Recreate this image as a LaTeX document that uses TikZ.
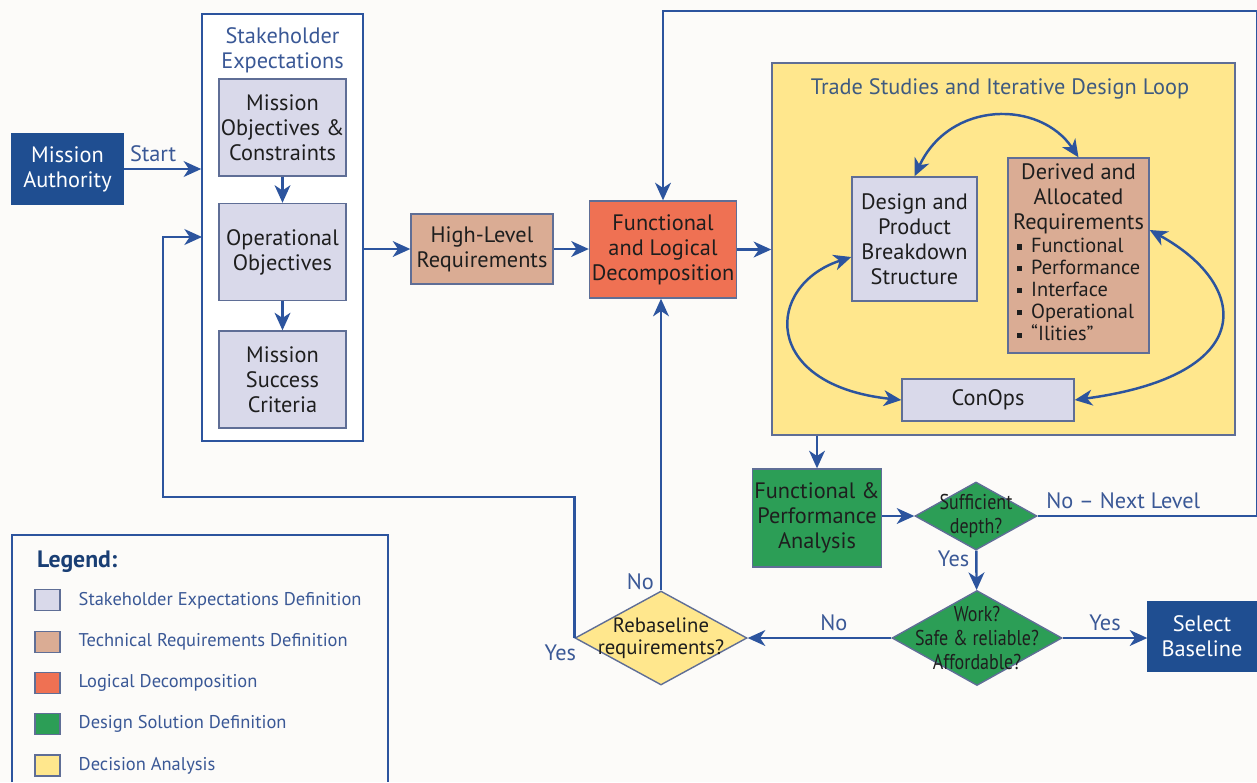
\documentclass[tikz,border=0pt]{standalone}
\usepackage{fontspec}
\setmainfont{PT Sans}
\newfontfamily\narrowfont[FakeStretch=0.84]{PT Sans}
\usetikzlibrary{shapes.geometric,arrows.meta,positioning}

\definecolor{paper}{RGB}{252,251,249}
\definecolor{navy}{RGB}{31,78,145}
\definecolor{flowblue}{RGB}{44,84,158}
\definecolor{labelblue}{RGB}{58,88,150}
\definecolor{titleslate}{RGB}{62,90,128}
\definecolor{inkdark}{RGB}{30,30,30}
\definecolor{edgegrey}{RGB}{95,110,150}
\definecolor{lavender}{RGB}{217,217,234}
\definecolor{tan}{RGB}{218,172,148}
\definecolor{coral}{RGB}{239,113,83}
\definecolor{leaf}{RGB}{44,158,86}
\definecolor{sand}{RGB}{255,231,141}

\newcommand{\sqbullet}{\rule[0.3ex]{0.5ex}{0.5ex}\hspace{0.45em}}

\begin{document}
\begin{tikzpicture}[
        x=0.02cm, y=-0.02cm,
        font=\fontsize{12.7}{14.2}\selectfont,
        >={Stealth[length=10pt,width=9pt,inset=3pt]}
    ]
    \tikzset{
        flow/.style = {->, draw=flowblue, line width=1.4pt},
        twoway/.style = {<->, draw=flowblue, line width=1.4pt},
        flowlabel/.style = {text=labelblue},
        box/.style = {rectangle, draw=edgegrey, line width=0.8pt, align=center, text=inkdark, inner sep=1pt},
        stakebox/.style = {box, fill=lavender, minimum width=2.54cm, minimum height=1.94cm},
        reqbox/.style = {box, fill=tan},
        decompbox/.style = {box, fill=coral},
        solutionbox/.style = {box, fill=leaf},
        authbox/.style = {box, fill=navy, draw=navy, text=white},
        groupframe/.style = {rectangle, draw=flowblue, line width=0.9pt},
        decision/.style = {diamond, draw=edgegrey, line width=0.8pt, inner sep=0pt},
        diamondtext/.style = {align=center, text=inkdark, font=\narrowfont\fontsize{12.2}{13.4}\selectfont},
        swatch/.style = {rectangle, draw=edgegrey, line width=0.6pt, minimum width=0.5cm, minimum height=0.42cm, inner sep=0pt},
        legendtext/.style = {text=labelblue, font=\fontsize{10.5}{13}\selectfont},
    }
    \useasboundingbox (0,0) rectangle (1257,782);
    \fill[paper] (0,0) rectangle (1257,782);

    \node[groupframe, fill=white, minimum width=3.22cm, minimum height=8.54cm] (stakeframe) at (282.5,227.5) {};
    \node[groupframe, fill=sand, draw=edgegrey, minimum width=9.26cm, minimum height=7.44cm] (tradeframe) at (1003.5,249) {};

    \node[authbox, minimum width=2.22cm, minimum height=1.40cm] (authority) at (67.5,169) {Mission\\Authority};
    \node[align=center, text=labelblue] (staketitle) at (282.5,50) {Stakeholder\\Expectations};
    \node[stakebox] (missionobj) at (282.5,127.5) {Mission\\Objectives \&\\Constraints};
    \node[stakebox] (opsobj) at (282.5,252) {Operational\\Objectives};
    \node[stakebox] (successcrit) at (282.5,379.5) {Mission\\Success\\Criteria};
    \node[reqbox, minimum width=2.84cm, minimum height=1.40cm] (highlevel) at (482,249) {High-Level\\Requirements};
    \node[decompbox, minimum width=2.94cm, minimum height=1.94cm] (decomp) at (663,249.5) {Functional\\and Logical\\Decomposition};

    \node[text=titleslate] (tradetitle) at (1000,89) {Trade Studies and Iterative Design Loop};
    \node[box, fill=lavender, minimum width=2.50cm, minimum height=2.48cm] (breakdown) at (914.5,239) {Design and\\Product\\Breakdown\\Structure};
    \node[reqbox, minimum width=2.82cm, minimum height=3.90cm] (derived) at (1078.5,255.5) {Derived and\\Allocated\\Requirements\\[1pt]
        {\fontsize{11.6}{12.5}\selectfont\begin{tabular}{@{}l@{}}
            \sqbullet Functional\\
            \sqbullet Performance\\
            \sqbullet Interface\\
            \sqbullet Operational\\
            \sqbullet “Ilities”
        \end{tabular}}};
    \node[box, fill=lavender, minimum width=3.44cm, minimum height=0.84cm] (conops) at (988,400) {ConOps};

    \node[solutionbox, minimum width=2.50cm, minimum height=1.96cm] (analysis) at (817,518) {Functional \&\\Performance\\Analysis};
    \node[decision, fill=leaf, minimum width=2.44cm, minimum height=1.36cm,
        label={[diamondtext]center:Sufficient\\depth?}] (sufficient) at (976,516) {};
    \node[decision, fill=leaf, minimum width=3.40cm, minimum height=1.90cm,
        label={[diamondtext]center:Work?\\Safe \& reliable?\\Affordable?}] (work) at (977,638) {};
    \node[decision, fill=sand, minimum width=3.44cm, minimum height=1.88cm,
        label={[align=center, text=inkdark, font=\fontsize{11.8}{12.5}\selectfont]center:Rebaseline\\requirements?}] (rebase) at (661,638) {};
    \node[authbox, minimum width=2.16cm, minimum height=1.38cm] (select) at (1202,636.5) {Select\\Baseline};

    \coordinate (loopse) at (1257,516);
    \coordinate (loopne) at (1257,11);
    \coordinate (backcorner) at (163,497);
    \coordinate (backin) at (202,237);

    \draw[flow] (authority) -- node[flowlabel, above, pos=0.38] {Start} (authority -| stakeframe.west);
    \draw[flow] (missionobj) -- (opsobj);
    \draw[flow] (opsobj) -- (successcrit);
    \draw[flow] (stakeframe.east |- highlevel) -- (highlevel);
    \draw[flow] (highlevel) -- (highlevel -| decomp.west);
    \draw[flow] (decomp) -- (decomp -| tradeframe.west);
    \draw[flow] (tradeframe.south -| analysis.north) -- (analysis);
    \draw[flow] (analysis.east |- sufficient) -- (sufficient);
    \draw[flow] (sufficient) -- node[flowlabel, left, pos=0.2] {Yes} (work);
    \draw[flow] (work.east) -- node[flowlabel, above] {Yes} (work.east -| select.west);
    \draw[flow] (work) -- node[flowlabel, above, pos=0.4] {No} (rebase);
    \draw[flow] (rebase) -- node[flowlabel, left, pos=0.03] {No} (rebase.north |- decomp.south);
    \draw[flow] (sufficient.east) -- node[flowlabel, above, pos=0.39] {No -- Next Level} (loopse) -- (loopne) -- (loopne -| decomp.north) -- (decomp.north);
    \draw[flow] (rebase.west) node[flowlabel, anchor=north east, xshift=5pt] {Yes} |- (backcorner) |- (backin);

    \draw[twoway] (breakdown.north) .. controls (950,100) and (1040,100) .. (derived.north);
    \draw[twoway] (breakdown.west |- 0,257) .. controls (765,285) and (760,385) .. (conops.west);
    \draw[twoway] (derived.east |- 0,230) .. controls (1250,285) and (1260,375) .. (conops.east);

    \draw[groupframe] (12,782) |- (388,535) -- (388,782);
    \node[anchor=west, text=navy!80!black, font=\bfseries\fontsize{13.5}{15}\selectfont] (legendtitle) at (31,562) {Legend:};
    \foreach \fillcol/\itemtext [count=\i] in {lavender/Stakeholder Expectations Definition, tan/Technical Requirements Definition, coral/Logical Decomposition, leaf/Design Solution Definition, sand/Decision Analysis} {
        \node[swatch, fill=\fillcol] (swatch\i) at (47.5,559+41.3*\i) {};
        \node[legendtext, right=0.24cm of swatch\i] (entry\i) {\itemtext};
    }
\end{tikzpicture}
\end{document}
